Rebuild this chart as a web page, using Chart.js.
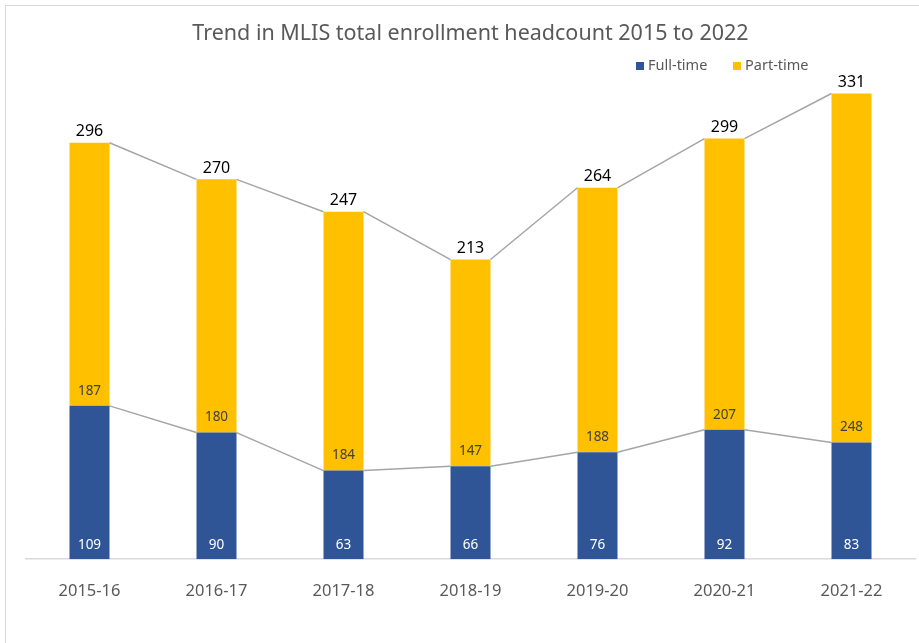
<!DOCTYPE html>
<html>
<head>
<meta charset="utf-8">
<script src="https://cdn.jsdelivr.net/npm/chart.js@4/dist/chart.umd.min.js"></script>
<style>
  html, body { margin: 0; padding: 0; background: #fff; }
  #wrap { width: 919px; height: 643px; position: relative; }
</style>
</head>
<body>
<div id="wrap"><canvas id="chart" width="919" height="643"></canvas></div>
<script>
const categories = ["2015-16", "2016-17", "2017-18", "2018-19", "2019-20", "2020-21", "2021-22"];
const fullTime = [109, 90, 63, 66, 76, 92, 83];
const partTime = [187, 180, 184, 147, 188, 207, 248];
const totals = [296, 270, 247, 213, 264, 299, 331];

const BLUE = "#2F5597";
const GOLD = "#FFC000";
const FONT = "'Noto Sans', 'Open Sans', sans-serif";

// outer frame like the Excel chart area (only top and left visible)
const framePlugin = {
  id: "frame",
  beforeDraw(chart) {
    const ctx = chart.ctx;
    ctx.save();
    ctx.fillStyle = "#fff";
    ctx.fillRect(0, 0, chart.width, chart.height);
    ctx.strokeStyle = "#d9d9d9";
    ctx.lineWidth = 1;
    ctx.beginPath();
    ctx.moveTo(5.5, chart.height);
    ctx.lineTo(5.5, 5.5);
    ctx.lineTo(chart.width, 5.5);
    ctx.stroke();
    ctx.restore();
  }
};

// series lines joining bar edges, Excel style
const seriesLines = {
  id: "seriesLines",
  beforeDatasetsDraw(chart) {
    const ctx = chart.ctx;
    ctx.save();
    ctx.strokeStyle = "#A5A5A5";
    ctx.lineWidth = 1.5;
    [0, 1].forEach(d => {
      const bars = chart.getDatasetMeta(d).data;
      for (let i = 0; i < bars.length - 1; i++) {
        const a = bars[i], b = bars[i + 1];
        ctx.beginPath();
        ctx.moveTo(a.x + a.width / 2, a.y);
        ctx.lineTo(b.x - b.width / 2, b.y);
        ctx.stroke();
      }
    });
    ctx.restore();
  }
};

const barLabels = {
  id: "barLabels",
  afterDatasetsDraw(chart) {
    const ctx = chart.ctx;
    const ft = chart.getDatasetMeta(0).data;
    const pt = chart.getDatasetMeta(1).data;
    ctx.save();
    ctx.textAlign = "center";
    ctx.textBaseline = "middle";
    ft.forEach((bar, i) => {
      ctx.font = "13.5px " + FONT;
      ctx.fillStyle = "#ffffff";
      ctx.fillText(fullTime[i], bar.x, bar.base - 14);
      ctx.fillStyle = "#404040";
      ctx.fillText(partTime[i], pt[i].x, pt[i].base - 15);
      ctx.font = "16px " + FONT;
      ctx.fillStyle = "#000000";
      ctx.fillText(totals[i], pt[i].x, pt[i].y - 11);
    });
    ctx.restore();
  }
};

const legendPlugin = {
  id: "customLegend",
  afterDraw(chart) {
    const ctx = chart.ctx;
    ctx.save();
    ctx.font = "14.5px " + FONT;
    ctx.textBaseline = "middle";
    ctx.textAlign = "left";
    const items = [["Full-time", BLUE, 636], ["Part-time", GOLD, 733]];
    items.forEach(([label, color, x]) => {
      ctx.fillStyle = color;
      ctx.fillRect(x, 62, 8, 8);
      ctx.fillStyle = "#595959";
      ctx.fillText(label, x + 12, 66);
    });
    ctx.restore();
  }
};

new Chart(document.getElementById("chart"), {
  type: "bar",
  data: {
    labels: categories,
    datasets: [
      {
        label: "Full-time",
        data: fullTime,
        backgroundColor: BLUE,
        categoryPercentage: 1,
        barPercentage: 0.315
      },
      {
        label: "Part-time",
        data: partTime,
        backgroundColor: GOLD,
        categoryPercentage: 1,
        barPercentage: 0.315
      }
    ]
  },
  options: {
    responsive: false,
    animation: false,
    layout: {
      padding: { left: 26, right: 4, top: 0, bottom: 20 }
    },
    plugins: {
      legend: { display: false },
      tooltip: { enabled: false },
      title: {
        display: true,
        text: "Trend in MLIS total enrollment headcount 2015 to 2022",
        color: "#595959",
        font: { family: FONT, size: 21.5, weight: "normal" },
        padding: { top: 21, bottom: 20 }
      }
    },
    scales: {
      x: {
        stacked: true,
        grid: { display: false, drawTicks: false },
        border: { display: true, color: "#d9d9d9", width: 1.5 },
        ticks: {
          color: "#595959",
          padding: 22,
          font: { family: FONT, size: 16.5 }
        }
      },
      y: {
        stacked: true,
        display: false,
        min: 0,
        max: 350
      }
    }
  },
  plugins: [framePlugin, seriesLines, barLabels, legendPlugin]
});
</script>
</body>
</html>
